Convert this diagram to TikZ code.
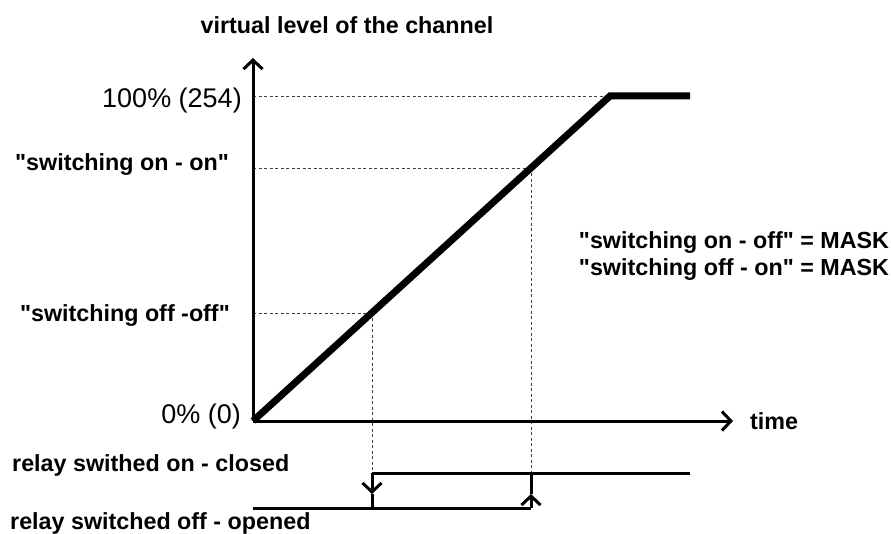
\documentclass[tikz,border=0pt]{standalone}
\usepackage{fontspec}
\setmainfont{Liberation Sans}
\usetikzlibrary{arrows.meta,positioning}

\newcommand{\dq}{\textquotedbl}

\tikzset{
	lbl/.style={font=\bfseries\fontsize{23.3}{27}\selectfont, inner sep=0pt},
	num/.style={font=\fontsize{27}{30}\selectfont, inner sep=0pt},
	axis/.style={line width=3pt, -{Straight Barb[length=9pt,width=19pt]}},
	ramp/.style={line width=7pt},
	guide/.style={line width=0.9pt, dash pattern=on 3pt off 2.5pt, black!75},
	relay/.style={line width=3pt},
	switch/.style={line width=3pt, -{Straight Barb[length=9pt,width=19pt]}}
}

\begin{document}
\begin{tikzpicture}[x=1pt, y=-1pt]
	\useasboundingbox (0,0) rectangle (891,534);
	  \coordinate (O) at (253,421) ; %
	  \coordinate (ytip) at (253,58);
	  \coordinate (xtip) at (733,421);
	  \coordinate (full) at (610,96);
	  \coordinate (fullend) at (690,96);
	  \coordinate (on) at (531,168);
	  \coordinate (off) at (372,313);
	  \coordinate (fully) at (253,96);
	  \coordinate (ony) at (253,168);
	  \coordinate (offy) at (253,313);
	  \coordinate (closedA) at (372,473);
	  \coordinate (closedB) at (690,473);
	  \coordinate (openA) at (253,508);
	  \coordinate (offdrop) at (372,508);
	  \coordinate (offmid) at (372,494);
	  \coordinate (onrise) at (531,473);
	  \coordinate (onmid) at (531,494);
	  \coordinate (openB) at (531,508);

	  \node[lbl] (ylabel) at (347,25) {virtual level of the channel};
	  \node[num, left=11pt of fully, yshift=-5pt] (fulltxt) {100\% (254)};
	  \node[lbl, left=24pt of ony, yshift=3pt] (ontxt) {\dq switching on - on\dq};
	  \node[lbl, left=23pt of offy, yshift=-3pt] (offtxt) {\dq switching off -off\dq};
	  \node[num, left=12pt of O, yshift=4pt] (zerotxt) {0\% (0)};
	  \node[lbl, right=17pt of xtip] (xlabel) {time};
	  \node[lbl, align=left] (mask) at (734,256) {\dq switching on - off\dq{} = MASK\\\dq switching off - on\dq{} = MASK};
	  \node[lbl, anchor=west] (closedtxt) at (12,465) {relay swithed on - closed};
	  \node[lbl, anchor=west] (opentxt) at (10,523) {relay switched off - opened};

	  \draw[guide] (fully) -- (full);
	  \draw[guide] (ony) -- (on);
	  \draw[guide] (offy) -- (off);
	  \draw[guide] (off) -- (closedA);
	  \draw[guide] (on) -- (onrise);

	  \draw[axis] (O) -- (ytip);
	  \draw[axis] (O) -- (xtip);
	  \draw[ramp] (O) -- (full) -- (fullend);

	  \draw[relay] (openA) -- (openB);
	  \draw[relay] (closedA) -- (closedB);
	  \draw[switch] (closedA) -- (offmid);
	  \draw[relay] (offmid) -- (offdrop);
	  \draw[switch] (openB) -- (onmid);
	  \draw[relay] (onmid) -- (onrise);
\end{tikzpicture}
\end{document}
